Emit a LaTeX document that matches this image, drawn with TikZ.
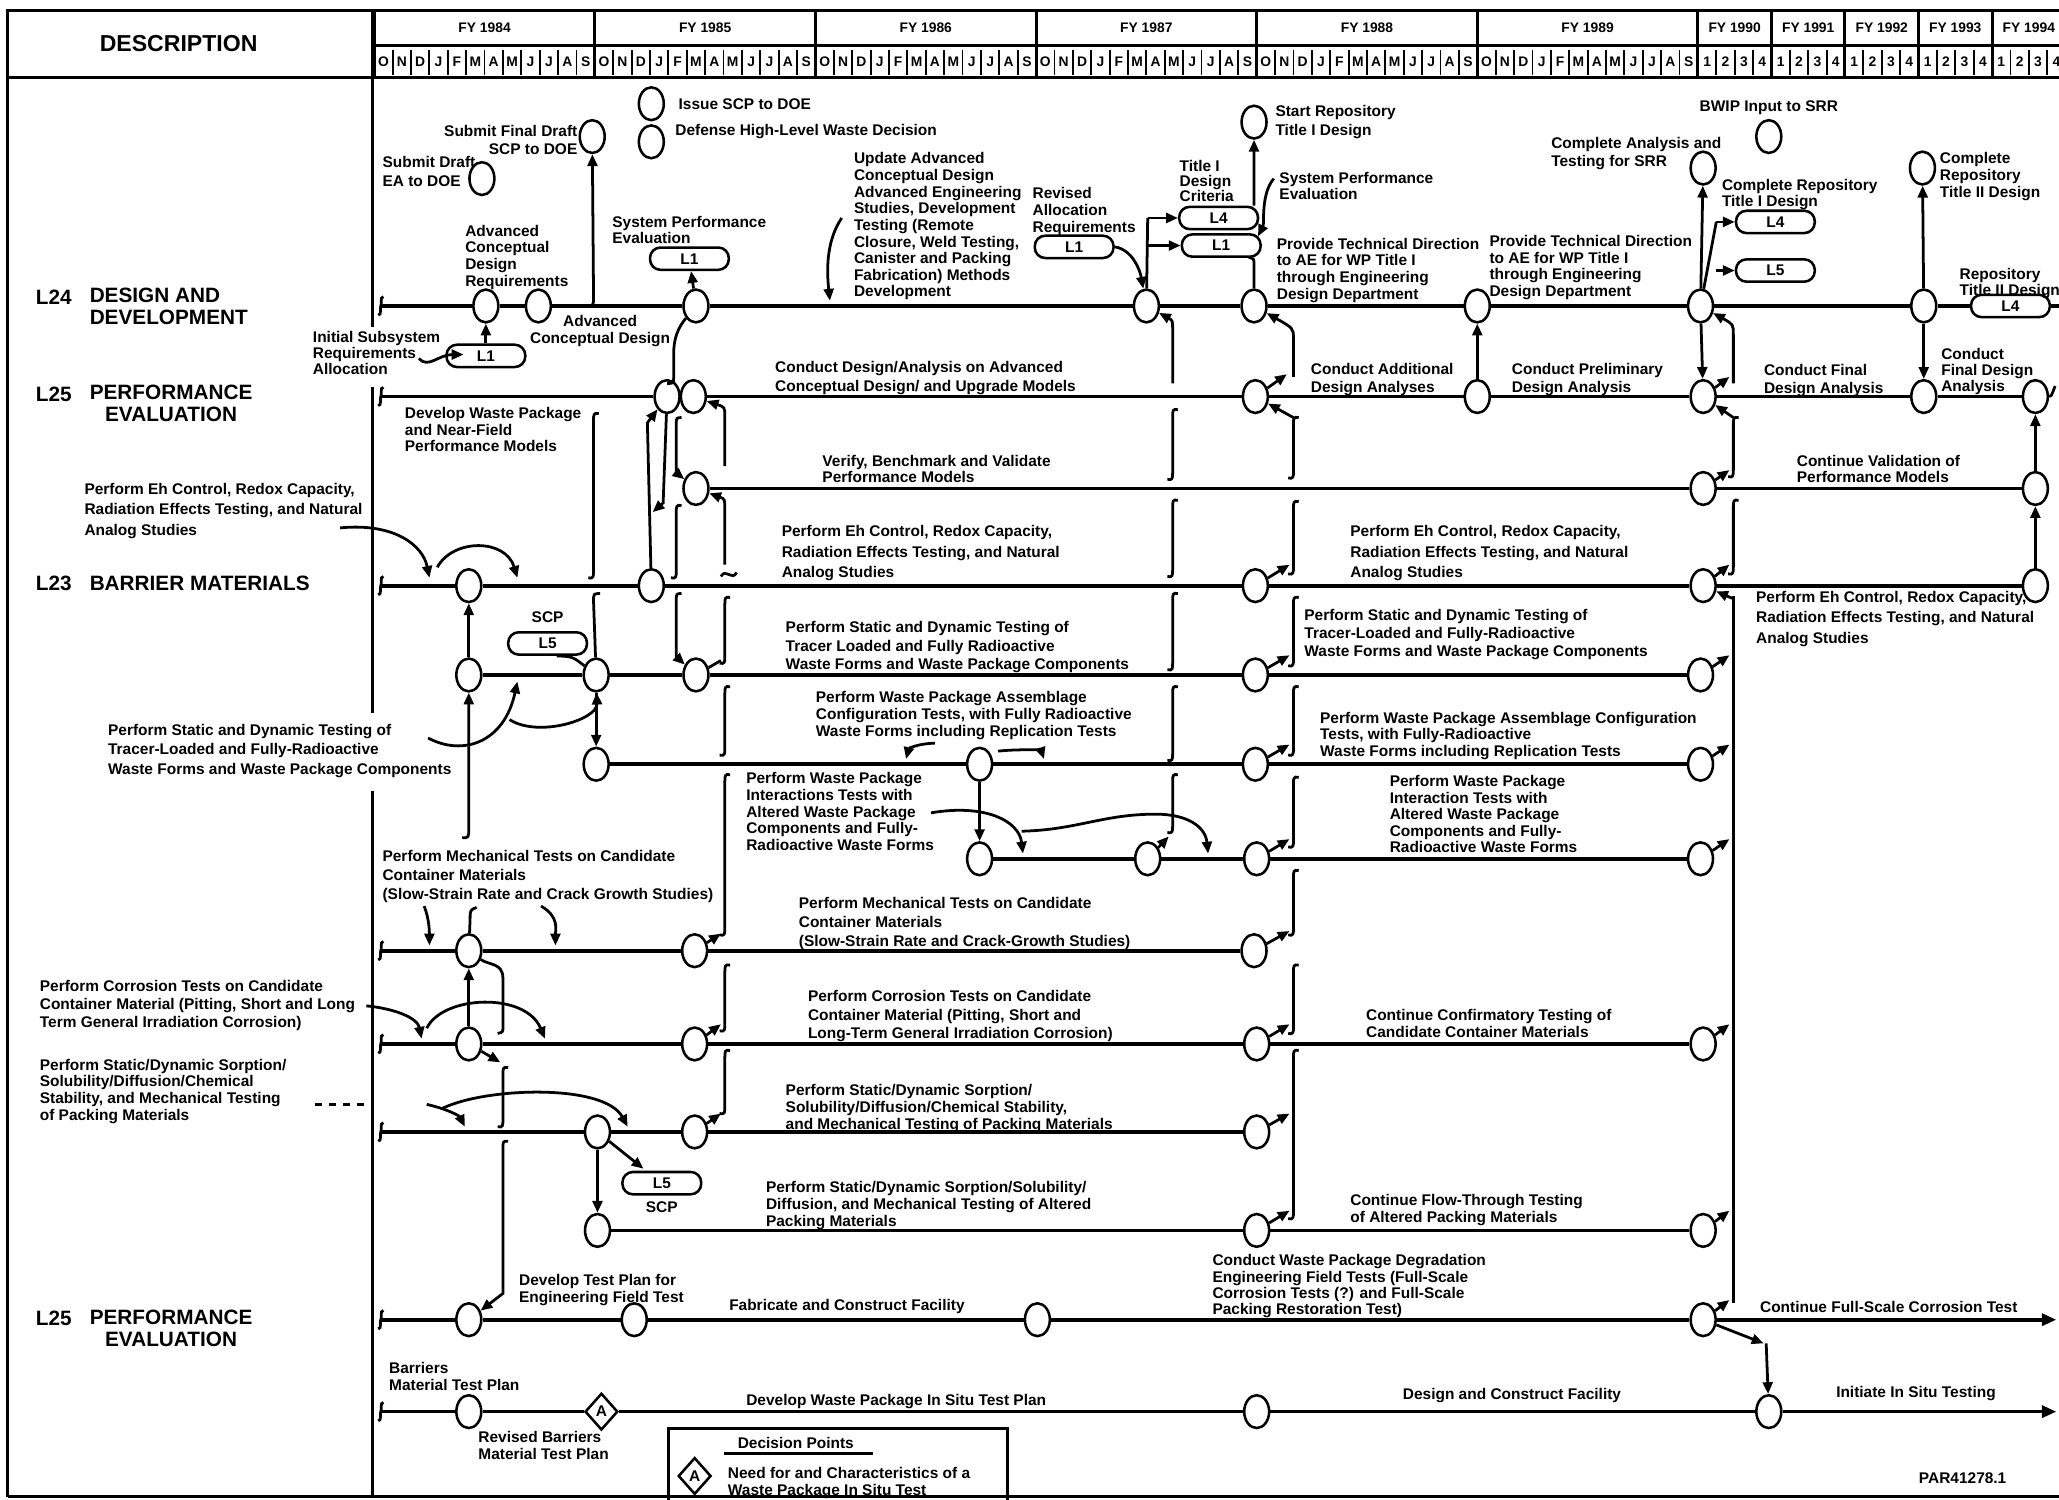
\documentclass[tikz,border=0pt]{standalone}
\usepackage{fontspec}
\setmainfont{Liberation Sans}
\usetikzlibrary{arrows.meta, positioning, shapes.geometric, calc}

\begin{document}
\begin{tikzpicture}[
  x=0.02cm, y=-0.02cm,
  every node/.style={font=\bfseries\fontsize{6.7}{8}\selectfont},
  ms/.style={draw, ellipse, line width=1.1pt, fill=white,
    minimum width=0.38cm, minimum height=0.5cm, inner sep=0pt},
  lbox/.style={draw, rounded corners=0.16cm, line width=1.1pt, fill=white,
    minimum width=1.2cm, minimum height=0.34cm, inner sep=0pt},
  dpt/.style={draw, diamond, line width=1.1pt, fill=white,
    minimum width=0.5cm, minimum height=0.56cm, inner sep=0pt},
  rim/.style={line width=1.3pt},
  cell/.style={line width=0.8pt},
  track/.style={line width=1.6pt},
  link/.style={line width=1.2pt},
  arr/.style={link, -{Triangle[length=1.8mm, width=1.5mm]}},
  txt/.style={align=left, inner sep=0pt, anchor=north west},
  sk/.style={font=\bfseries\fontsize{6.7}{#1}\selectfont},
  lbl/.style={inner sep=0pt, anchor=west},
  grp/.style={font=\bfseries\fontsize{9}{9.6}\selectfont, inner sep=0pt, anchor=west},
  hdr/.style={font=\bfseries\fontsize{6}{7}\selectfont, inner sep=0pt},
  brk/.pic={\draw[link] (2,-7) .. controls (-1,-7) and (1,-1) .. (0,0)
    .. controls (-1,1) and (1,7) .. (-2,7);}
]
  \useasboundingbox (0,0) rectangle (1568,1142);
  \clip (0,0) rectangle (1568,1142);
  \fill[white] (0,0) rectangle (1568,1142);

  % Cornice
  \draw[rim] (6,1140) -- (6,8) -- (1575,8);
  \draw[rim] (6,59) -- (1575,59);
  \draw[rim] (284,35) -- (1575,35);
  \draw[rim] (6,1140) -- (1575,1140);
  \draw[rim] (284,8) -- (284,249);
  \draw[rim] (284,295) -- (284,543);
  \draw[rim] (284,602) -- (284,1140);

  % Intestazione
  \node[font=\bfseries\fontsize{10}{12}\selectfont] (desc) at (136,33) {DESCRIPTION};
  \foreach \fy [count=\i from 0] in {1984,...,1989} {
    \draw[rim] (285+168*\i,8) -- (285+168*\i,59);
    \node[hdr] (fy\fy) at (369+168*\i,21) {FY \fy};
    \foreach \mo [count=\j from 0] in {O,N,D,J,F,M,A,M,J,J,A,S} {
      \node[hdr] (mo\fy-\j) at (292+168*\i+14*\j,47) {\mo};
      \draw[cell] (299+168*\i+14*\j,38) -- (299+168*\i+14*\j,57);
    }
  }
  \foreach \fy [count=\i from 0] in {1990,...,1994} {
    \draw[rim] (1293+56*\i,8) -- (1293+56*\i,59);
    \node[hdr] (fy\fy) at (1321+56*\i,21) {FY \fy};
    \foreach \q in {1,...,4} {
      \node[hdr] (qt\fy-\q) at (1286+56*\i+14*\q,47) {\q};
      \draw[cell] (1293+56*\i+14*\q,38) -- (1293+56*\i+14*\q,57);
    }
  }

  % Colonna descrizione
  \node[grp] (l24) at (27,226) {L24};
  \node[grp, anchor=north west, align=left] (l24n) at (68,219) {DESIGN AND\\DEVELOPMENT};
  \node[grp] (l25) at (27,300) {L25};
  \node[grp, anchor=north west, align=center] (l25n) at (68,293) {PERFORMANCE\\EVALUATION};
  \node[grp] (l23) at (27,444) {L23};
  \node[grp] (l23n) at (68,444) {BARRIER MATERIALS};
  \node[grp] (l25b) at (27,1004) {L25};
  \node[grp, anchor=north west, align=center] (l25bn) at (68,997) {PERFORMANCE\\EVALUATION};
  \node[txt, sk=8.7] (tehL) at (64,368) {Perform Eh Control, Redox Capacity,\\Radiation Effects Testing, and Natural\\Analog Studies};
  \node[txt, sk=8.5] (tsdL) at (82,551) {Perform Static and Dynamic Testing of\\Tracer-Loaded and Fully-Radioactive\\Waste Forms and Waste Package Components};
  \node[txt, sk=7.8] (tcoL) at (30,746) {Perform Corrosion Tests on Candidate\\Container Material (Pitting, Short and Long\\Term General Irradiation Corrosion)};
  \node[txt, sk=7.3] (tsoL) at (30,806) {Perform Static/Dynamic Sorption/\\Solubility/Diffusion/Chemical\\Stability, and Mechanical Testing\\of Packing Materials};

  % Milestone in alto
  \node[ms] (ms1) at (451,104) {};
  \node[ms] (ms2) at (367,136) {};
  \node[ms] (ms3) at (496,79) {};
  \node[ms] (ms4) at (496,108) {};
  \node[ms] (ms5) at (955,93) {};
  \node[ms] (ms6) at (1347,104) {};
  \node[ms] (ms7) at (1297,128) {};
  \node[ms] (ms9) at (1464,128) {};
  \node[txt, anchor=north east, align=right] (tms1) at (440,95) {Submit Final Draft\\SCP to DOE};
  \node[txt] (tms2) at (291,119) {Submit Draft\\EA to DOE};
  \node[lbl, right=0.2cm of ms3] (tms3) {Issue SCP to DOE};
  \node[lbl] (tms4) at (514,100) {Defense High-Level Waste Decision};
  \node[txt] (tms5) at (971,80) {Start Repository\\Title I Design};
  \node[inner sep=0pt, above=0.06cm of ms6] (tms6) {BWIP Input to SRR};
  \node[txt] (tms7) at (1181,104) {Complete Analysis and\\Testing for SRR};
  \node[txt, sk=7.2] (tms9) at (1477,116) {Complete\\Repository\\Title II Design};

  % Traccia L24
  \coordinate (s1) at (290,233);
  \node[ms] (m1a) at (370,233) {};
  \node[ms] (m1b) at (410,233) {};
  \node[ms] (m1c) at (530,233) {};
  \node[ms] (m1d) at (873,233) {};
  \node[ms] (m1e) at (955,233) {};
  \node[ms] (m1f) at (1125,233) {};
  \node[ms] (m1g) at (1295,233) {};
  \node[ms] (m1h) at (1465,233) {};
  \node[lbox] (b1r) at (1531,233) {L4};
  \coordinate (e1) at (1575,233);
  \node[lbox] (b1a) at (370,271) {L1};
  \node[lbox] (b1c) at (525,197) {L1};
  \node[lbox] (b1d) at (818,188) {L1};
  \node[lbox] (b4t) at (928,166) {L4};
  \node[lbox] (b1t) at (930,187) {L1};
  \node[lbox] (b4s) at (1352,169) {L4};
  \node[lbox] (b5s) at (1352,206) {L5};
  \node[txt, sk=7.2] (tacr) at (354,171) {Advanced\\Conceptual\\Design\\Requirements};
  \node[txt, anchor=north, align=center, sk=7.4] (tacd) at (457,240) {Advanced\\Conceptual Design};
  \node[txt, sk=6.9] (tisr) at (238,252) {Initial Subsystem\\Requirements\\Allocation};
  \node[txt, sk=7] (tspe) at (466,164) {System Performance\\Evaluation};
  \node[txt, sk=7.2] (tupd) at (650,116) {Update Advanced\\Conceptual Design\\Advanced Engineering\\Studies, Development\\Testing (Remote\\Closure, Weld Testing,\\Canister and Packing\\Fabrication) Methods\\Development};
  \node[txt, sk=7.4] (trev) at (786,142) {Revised\\Allocation\\Requirements};
  \node[txt, sk=6.4] (ttdc) at (898,122) {Title I\\Design\\Criteria};
  \node[txt, sk=7] (tspe2) at (974,131) {System Performance\\Evaluation};
  \node[txt, sk=7.2] (tptd1) at (972,181) {Provide Technical Direction\\to AE for WP Title I\\through Engineering\\Design Department};
  \node[txt, sk=7.2] (tptd2) at (1134,179) {Provide Technical Direction\\to AE for WP Title I\\through Engineering\\Design Department};
  \node[txt, sk=7] (tcrt) at (1311,136) {Complete Repository\\Title I Design};
  \node[txt, sk=7] (trt2) at (1492,204) {Repository\\Title II Design};

  % Tracce L25 (modelli)
  \coordinate (s2) at (290,302);
  \node[ms] (m2a) at (508,302) {};
  \node[ms] (m2b) at (528,302) {};
  \node[ms] (m2c) at (956,302) {};
  \node[ms] (m2d) at (1125,302) {};
  \node[ms] (m2e) at (1297,302) {};
  \node[ms] (m2f) at (1465,302) {};
  \node[ms] (m2g) at (1550,302) {};
  \node[ms] (m3a) at (530,372) {};
  \node[ms] (m3b) at (1297,372) {};
  \node[ms] (m3c) at (1550,372) {};
  \node[txt] (tcd) at (590,275) {Conduct Design/Analysis on Advanced\\Conceptual Design/ and Upgrade Models};
  \node[txt, sk=7.1] (tdwp) at (308,310) {Develop Waste Package\\and Near-Field\\Performance Models};
  \node[txt] (tcad) at (998,276) {Conduct Additional\\Design Analyses};
  \node[txt] (tcpd) at (1151,276) {Conduct Preliminary\\Design Analysis};
  \node[txt] (tcfd) at (1343,277) {Conduct Final\\Design Analysis};
  \node[txt, sk=6.8] (tcfd2) at (1478,265) {Conduct\\Final Design\\Analysis};
  \node[txt, sk=7.3] (tvb) at (626,346) {Verify, Benchmark and Validate\\Performance Models};
  \node[txt, sk=7.3] (tcv) at (1368,346) {Continue Validation of\\Performance Models};

  % Tracce L23 (materiali)
  \coordinate (s4) at (290,446);
  \node[ms] (m4a) at (357,446) {};
  \node[ms] (m4b) at (496,446) {};
  \node[ms] (m4c) at (956,446) {};
  \node[ms] (m4d) at (1297,446) {};
  \node[ms] (m4e) at (1550,446) {};
  \node[ms] (m5a) at (357,514) {};
  \node[ms] (m5b) at (454,514) {};
  \node[ms] (m5c) at (530,514) {};
  \node[ms] (m5d) at (956,514) {};
  \node[ms] (m5e) at (1295,514) {};
  \node[lbox] (b5a) at (417,490) {L5};
  \node[inner sep=0pt, above=0.12cm of b5a] (scpa) {SCP};
  \node[ms] (m6a) at (454,582) {};
  \node[ms] (m6b) at (746,582) {};
  \node[ms] (m6c) at (956,582) {};
  \node[ms] (m6d) at (1295,582) {};
  \node[ms] (m7a) at (746,654) {};
  \node[ms] (m7b) at (874,654) {};
  \node[ms] (m7c) at (957,654) {};
  \node[ms] (m7d) at (1295,654) {};
  \coordinate (s8) at (290,724);
  \node[ms] (m8a) at (357,724) {};
  \node[ms] (m8b) at (529,724) {};
  \node[ms] (m8c) at (955,724) {};
  \coordinate (s9) at (290,795);
  \node[ms] (m9a) at (357,795) {};
  \node[ms] (m9b) at (529,795) {};
  \node[ms] (m9c) at (957,795) {};
  \node[ms] (m9d) at (1297,795) {};
  \coordinate (s10) at (290,862);
  \node[ms] (m10a) at (455,862) {};
  \node[ms] (m10b) at (529,862) {};
  \node[ms] (m10c) at (957,862) {};
  \node[ms] (m11a) at (455,937) {};
  \node[ms] (m11b) at (957,937) {};
  \node[ms] (m11c) at (1297,937) {};
  \node[lbox] (b5b) at (504,901) {L5};
  \node[inner sep=0pt, below=0.09cm of b5b] (scpb) {SCP};

  \node[txt, sk=8.8] (teh1) at (595,400) {Perform Eh Control, Redox Capacity,\\Radiation Effects Testing, and Natural\\Analog Studies};
  \node[txt, sk=8.8] (teh2) at (1028,400) {Perform Eh Control, Redox Capacity,\\Radiation Effects Testing, and Natural\\Analog Studies};
  \node[txt, sk=8.8] (teh3) at (1337,450) {Perform Eh Control, Redox Capacity,\\Radiation Effects Testing, and Natural\\Analog Studies};
  \node[txt] (tsd1) at (598,473) {Perform Static and Dynamic Testing of\\Tracer Loaded and Fully Radioactive\\Waste Forms and Waste Package Components};
  \node[txt, sk=7.6] (tsd2) at (993,464) {Perform Static and Dynamic Testing of\\Tracer-Loaded and Fully-Radioactive\\Waste Forms and Waste Package Components};
  \node[txt, sk=7.4] (tpa1) at (621,526) {Perform Waste Package Assemblage\\Configuration Tests, with Fully Radioactive\\Waste Forms including Replication Tests};
  \node[txt, sk=7.1] (tpa2) at (1005,542) {Perform Waste Package Assemblage Configuration\\Tests, with Fully-Radioactive\\Waste Forms including Replication Tests};
  \node[txt, sk=7.2] (twi1) at (568,588) {Perform Waste Package\\Interactions Tests with\\Altered Waste Package\\Components and Fully-\\Radioactive Waste Forms};
  \node[txt, sk=7.2] (twi2) at (1058,590) {Perform Waste Package\\Interaction Tests with\\Altered Waste Package\\Components and Fully-\\Radioactive Waste Forms};
  \node[txt, sk=8.2] (tmt1) at (291,647) {Perform Mechanical Tests on Candidate\\Container Materials\\(Slow-Strain Rate and Crack Growth Studies)};
  \node[txt, sk=8.2] (tmt2) at (608,683) {Perform Mechanical Tests on Candidate\\Container Materials\\(Slow-Strain Rate and Crack-Growth Studies)};
  \node[txt] (tco1) at (615,754) {Perform Corrosion Tests on Candidate\\Container Material (Pitting, Short and\\Long-Term General Irradiation Corrosion)};
  \node[txt, sk=7.3] (tcc) at (1040,768) {Continue Confirmatory Testing of\\Candidate Container Materials};
  \node[txt, sk=7.4] (tso1) at (598,825) {Perform Static/Dynamic Sorption/\\Solubility/Diffusion/Chemical Stability,\\and Mechanical Testing of Packing Materials};
  \node[txt, sk=7.4] (tso2) at (583,899) {Perform Static/Dynamic Sorption/Solubility/\\Diffusion, and Mechanical Testing of Altered\\Packing Materials};
  \node[txt, sk=7.3] (tft) at (1028,909) {Continue Flow-Through Testing\\of Altered Packing Materials};

  % Tracce L25 (prove in campo)
  \coordinate (s12) at (290,1005);
  \node[ms] (m12a) at (357,1005) {};
  \node[ms] (m12b) at (483,1005) {};
  \node[ms] (m12c) at (790,1005) {};
  \node[ms] (m12d) at (1297,1005) {};
  \coordinate (e12) at (1566,1005);
  \coordinate (s13) at (290,1075);
  \node[ms] (m13a) at (357,1075) {};
  \node[dpt] (d13) at (458,1075) {A};
  \node[ms] (m13b) at (957,1075) {};
  \node[ms] (m13c) at (1347,1075) {};
  \coordinate (e13) at (1566,1075);
  \node[txt, sk=7.3] (ttp) at (395,970) {Develop Test Plan for\\Engineering Field Test};
  \node[lbl] (tfab) at (555,995) {Fabricate and Construct Facility};
  \node[txt, sk=7.1] (tdeg) at (923,955) {Conduct Waste Package Degradation\\Engineering Field Tests (Full-Scale\\Corrosion Tests (?) and Full-Scale\\Packing Restoration Test)};
  \node[lbl] (tfsc) at (1340,995) {Continue Full-Scale Corrosion Test};
  \node[txt, sk=7.4] (tbm) at (296,1037) {Barriers\\Material Test Plan};
  \node[txt, sk=7] (trbm) at (364,1090) {Revised Barriers\\Material Test Plan};
  \node[lbl] (tdwt) at (568,1067) {Develop Waste Package In Situ Test Plan};
  \node[lbl] (tdcf) at (1068,1063) {Design and Construct Facility};
  \node[lbl] (tiis) at (1398,1061) {Initiate In Situ Testing};

  % Linee orizzontali
  \draw[track] (s1) -- (m1a) -- (m1b) -- (m1c) -- (m1d) -- (m1e) -- (m1f) -- (m1g) -- (m1h) -- (b1r) -- (e1);
  \draw[track] (s2) -- (m2a);
  \draw[track] (m2b) -- (m2c) -- (m2d) -- (m2e) -- (m2f) -- (m2g);
  \draw[track] (m3a) -- (m3b) -- (m3c);
  \draw[track] (s4) -- (m4a) -- (m4b) -- (m4c) -- (m4d) -- (m4e);
  \draw[track] (m5a) -- (m5b) -- (m5c) -- (m5d) -- (m5e);
  \draw[track] (m6a) -- (m6b) -- (m6c) -- (m6d);
  \draw[track] (m7a) -- (m7b) -- (m7c) -- (m7d);
  \draw[track] (s8) -- (m8a) -- (m8b) -- (m8c);
  \draw[track] (s9) -- (m9a) -- (m9b) -- (m9c) -- (m9d);
  \draw[track] (s10) -- (m10a) -- (m10b) -- (m10c);
  \draw[track] (m11a) -- (m11b) -- (m11c);
  \draw[track] (s12) -- (m12a) -- (m12b) -- (m12c) -- (m12d);
  \draw[track, -{Triangle[length=2.2mm, width=1.8mm]}] (m12d) -- (e12);
  \draw[track] (s13) -- (m13a) -- (d13) -- (m13b) -- (m13c);
  \draw[track, -{Triangle[length=2.2mm, width=1.8mm]}] (m13c) -- (e13);
  \draw[link] (m2g) .. controls (1562,302) .. (1565,294);
  \foreach \t in {233,302,446,724,795,862,1005,1075}
    \pic at (290,\t) {brk};

  % Collegamenti spezzati (barre verticali)
  \foreach \bx/\ya/\yb in {893/312/365, 893/381/439, 893/452/510, 893/523/579, 893/590/634,
      985/318/364, 985/382/437, 985/455/507, 985/523/575, 985/592/645, 985/663/712,
      985/735/787, 985/800/928, 1320/318/363, 1320/381/437,
      552/455/505, 552/523/575, 552/590/712, 552/735/785, 552/800/848,
      515/385/440, 452/315/440, 383/813/858}
    \draw[link] (\bx+4,\ya) .. controls (\bx,\ya-1) and (\bx,\ya+1) .. (\bx,\ya+5)
      -- (\bx,\yb-5) .. controls (\bx,\yb-1) and (\bx,\yb+1) .. (\bx-4,\yb);
  \draw[link] (1320,454) -- (1320,992);

  % Frecce dai milestone alle barre
  \foreach \n/\bx/\by in {m4c/982/430, m5d/982/499, m6c/982/567, m7c/982/639, m8c/982/709,
      m9c/982/780, m10c/982/848, m11b/982/922, m2c/980/285,
      m2e/1317/287, m3b/1317/358, m4d/1317/430, m5e/1317/499, m6d/1317/567, m7d/1317/639,
      m9d/1317/780, m11c/1317/922, m12d/1317/990, m7b/890/637,
      m8b/549/711, m9b/549/780, m10b/549/848}
    \draw[arr] (\n) -- (\bx,\by);
  \draw[link] (m5c) -- (549,503);
  \draw[arr] (985,318) -- (m2c);
  \draw[arr] (1320,318) -- (m2e);
  \draw[arr] (1320,456) -- (m4d);
  \draw[arr] (985,287) -- (985,258) .. controls (985,250) .. (m1e);
  \draw[arr] (1320,292) -- (1320,255) .. controls (1320,247) .. (m1g);
  \draw[arr] (893,292) -- (893,252) .. controls (893,244) .. (m1d);

  % Collegamenti verticali
  \draw[arr] (446,233) .. controls (452,233) .. (452,226) -- (ms1);
  \draw[arr] (b1a) -- (m1a);
  \draw[arr] (m1c) -- (b1c);
  \draw[link] (m1c) .. controls (516,250) and (513,258) .. (513,270) -- (513,288)
    .. controls (513,292) .. (508,292);
  \draw[arr] (b1d.east) .. controls (862,190) and (868,205) .. (m1d);
  \draw[link] (m1d) -- (874,166);
  \draw[arr] (874,166) -- (b4t);
  \draw[arr] (874,187) -- (b1t);
  \draw[arr] ([xshift=-0.08cm]b4t.north east) -- (ms5);
  \draw[link] (m1e) -- (955,202) .. controls (955,197) .. (951,196);
  \draw[arr] (970,136) .. controls (960,148) and (963,170) .. (958,180);
  \draw[arr] (m2d) -- (m1f);
  \draw[arr] (m1g) -- (ms7);
  \draw[arr] (m1g) -- (m2e);
  \draw[link] (m1g) -- (1307,169);
  \draw[arr] (1307,169) -- (b4s);
  \draw[arr] (1307,206) -- (b5s);
  \draw[arr] (m1h) -- (ms9);
  \draw[arr] (m1h) -- (m2f);
  \draw[arr] (m3c) -- (m2g);
  \draw[arr] (m4e) -- (m3c);
  \draw[arr] (m4b) -- (493,322) -- (m2a);
  \draw[arr] (m2a) -- (505,383) -- (497,390);
  \draw[arr] (519,318) .. controls (515,318) .. (515,324) -- (515,360) -- (m3a);
  \draw[arr] (519,452) .. controls (515,452) .. (515,458) -- (515,500) -- (m5c);
  \draw[arr] (552,355) -- (552,318) .. controls (552,310) .. (m2b);
  \draw[arr] (552,430) -- (552,388) .. controls (552,380) .. (m3a);
  \draw[link] (549,439) .. controls (553,432) and (557,443) .. (561,436);
  \draw[arr] (m5a) -- (m4a);
  \draw[arr] (352,638) .. controls (357,638) .. (357,630) -- (m5a);
  \draw[link] (457,452) .. controls (452,452) .. (452,458) -- (m5b);
  \draw[link] ([xshift=0.14cm]b5a.south) .. controls (436,500) .. (m5b);
  \draw[arr] (m5b) -- (m6a);
  \draw[arr] (m6b) -- (m7a);
  \draw[link] (m8a) -- (358,700) .. controls (358,693) .. (363,691);
  \draw[arr] (m9a) -- (m8a);
  \draw[link] (m8a) .. controls (372,735) and (383,733) .. (383,745) -- (383,782)
    .. controls (383,786) .. (379,787);
  \draw[arr] (m9a) -- (381,809);
  \draw[arr] (387,869) .. controls (383,869) .. (383,875) -- (383,985) -- (m12a);
  \draw[arr] (m10a) -- (m11a);
  \draw[arr] (m10a) -- (490,890);
  \draw[arr] (m12d) -- (1343,1023);
  \draw[arr] (1345,1023) -- (m13c);

  % Frecce dai testi
  \draw[arr] (641,166) .. controls (628,185) and (630,210) .. (632,229);
  \draw[arr] (319,273) .. controls (326,281) and (334,270) .. (353,270);
  \draw[arr] (259,402) .. controls (300,398) and (322,415) .. (327,440);
  \draw[arr] (333,432) .. controls (345,410) and (385,410) .. (394,440);
  \draw[arr] (326,562) .. controls (352,576) and (384,566) .. (394,519);
  \draw[arr] (388,548) .. controls (410,562) and (455,548) .. (m5b);
  \draw[arr] (323,690) .. controls (327,700) and (327,710) .. (327,720);
  \draw[arr] (412,690) .. controls (426,698) and (423,708) .. (423,720);
  \draw[arr] (279,766) .. controls (300,768) and (318,775) .. (321,791);
  \draw[arr] (325,783) .. controls (337,758) and (400,755) .. (415,791);
  \draw[link, dashed] (240,841) -- (283,841);
  \draw[arr] (325,841) .. controls (342,845) and (350,850) .. (354,858);
  \draw[arr] (337,844) .. controls (370,828) and (460,825) .. (478,858);
  \draw[arr] (712,566) .. controls (700,566) and (692,570) .. (690,578);
  \draw[arr] (760,572) .. controls (780,570) and (793,572) .. (795,578);
  \draw[arr] (709,619) .. controls (750,612) and (776,625) .. (779,650);
  \draw[arr] (778,633) .. controls (820,632) and (840,620) .. (880,620)
    .. controls (905,620) and (918,630) .. (920,650);

  % Legenda
  \draw[link] (509,1150) -- (509,1088) -- (767,1088) -- (767,1150);
  \node (tleg) at (606,1099) {Decision Points};
  \draw[link] (551,1107) -- (665,1107);
  \node[dpt] (dleg) at (529,1124) {A};
  \node[txt, sk=7.4] (tleg2) at (554,1117) {Need for and Characteristics of a\\Waste Package In Situ Test};
  \node[lbl] (par) at (1461,1126) {PAR41278.1};
\end{tikzpicture}
\end{document}
